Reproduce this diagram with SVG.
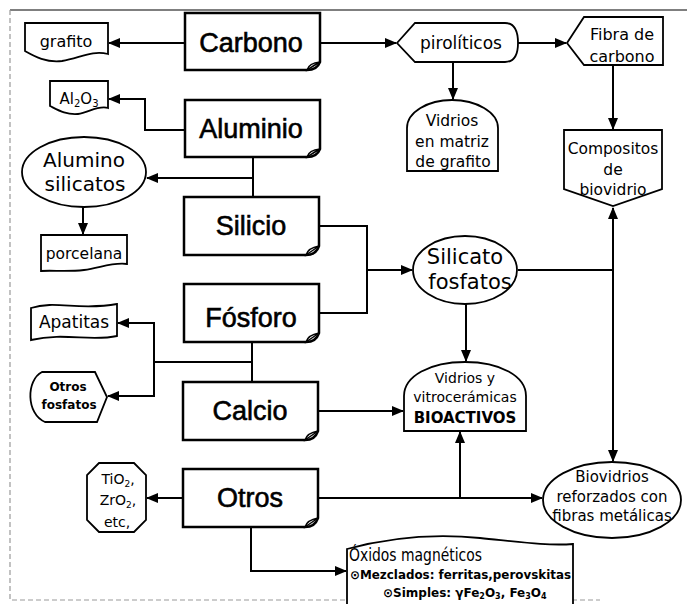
<svg xmlns="http://www.w3.org/2000/svg" width="687" height="604" viewBox="0 0 687 604">
<style>
.main{fill:#fff;stroke:#000;stroke-width:2.5;stroke-linejoin:miter}
.node{fill:#fff;stroke:#000;stroke-width:1.8}
.big{font-family:"Liberation Sans",Arial,sans-serif;font-size:27px;fill:#000;stroke:#000;stroke-width:0.6;text-anchor:middle}
.t{font-family:"DejaVu Sans",sans-serif;fill:#000;text-anchor:middle}
.c{fill:none;stroke:#000;stroke-width:2}
.fold{fill:#fff;stroke:#000;stroke-width:1.5}
</style>
<defs>
<marker id="ar" markerUnits="userSpaceOnUse" markerWidth="12" markerHeight="10" refX="11" refY="5" orient="auto">
<path d="M0,0 L12,5 L0,10 Z" fill="#000"/>
</marker>
</defs>
<rect x="0" y="0" width="687" height="604" fill="#fff"/>
<g id="frame">
<path d="M10,10 H687" stroke="#555" stroke-width="1.5" fill="none"/>
<path d="M10,10 V600 H600" stroke="#999" stroke-width="1.2" stroke-dasharray="5,3" fill="none"/>
</g>
<g id="connectors">
<path class="c" d="M185,43 H109" marker-end="url(#ar)"/>
<path class="c" d="M320,43 H396" marker-end="url(#ar)"/>
<path class="c" d="M518,43 H566" marker-end="url(#ar)"/>
<path class="c" d="M453,62 V99" marker-end="url(#ar)"/>
<path class="c" d="M613,65 V129" marker-end="url(#ar)"/>
<path class="c" d="M185,130 H145 V99 H109" marker-end="url(#ar)"/>
<path class="c" d="M253,157 V197"/>
<path class="c" d="M253,178 H147" marker-end="url(#ar)"/>
<path class="c" d="M83,207 V234" marker-end="url(#ar)"/>
<path class="c" d="M319,226 H367 V313 H318"/>
<path class="c" d="M367,270 H412" marker-end="url(#ar)"/>
<path class="c" d="M466,304 V361" marker-end="url(#ar)"/>
<path class="c" d="M518,270 H613"/>
<path class="c" d="M613,270 V208" marker-end="url(#ar)"/>
<path class="c" d="M613,270 V461" marker-end="url(#ar)"/>
<path class="c" d="M252,342 V382"/>
<path class="c" d="M252,362 H154"/>
<path class="c" d="M154,362 V323 H118" marker-end="url(#ar)"/>
<path class="c" d="M154,362 V396 H108" marker-end="url(#ar)"/>
<path class="c" d="M318,411 H403" marker-end="url(#ar)"/>
<path class="c" d="M318,498 H542" marker-end="url(#ar)"/>
<path class="c" d="M460,498 V432" marker-end="url(#ar)"/>
<path class="c" d="M183,498 H147" marker-end="url(#ar)"/>
<path class="c" d="M251,527 V571 H346" marker-end="url(#ar)"/>
</g>
<g id="carbono">
<path class="main" d="M185,13 H320 V62 Q317,70 307,70 H185 Z"/>
<path class="fold" d="M307,70 Q309,63 320,62 Q313,66 307,70 Z"/>
<text class="big" x="251" y="52">Carbono</text>
</g>
<g id="aluminio">
<path class="main" d="M185,100 H320 V149 Q317,157 307,157 H185 Z"/>
<path class="fold" d="M307,157 Q309,150 320,149 Q313,153 307,157 Z"/>
<text class="big" x="251" y="138">Aluminio</text>
</g>
<g id="silicio">
<path class="main" d="M184,197 H319 V246 Q316,255 306,255 H184 Z"/>
<path class="fold" d="M306,255 Q308,248 319,246 Q312,251 306,255 Z"/>
<text class="big" x="251" y="235">Silicio</text>
</g>
<g id="fosforo">
<path class="main" d="M184,284 H319 V333 Q316,342 306,342 H184 Z"/>
<path class="fold" d="M306,342 Q308,335 319,333 Q312,338 306,342 Z"/>
<text class="big" x="251" y="327">Fósforo</text>
</g>
<g id="calcio">
<path class="main" d="M183,382 H318 V431 Q315,440 305,440 H183 Z"/>
<path class="fold" d="M305,440 Q307,433 318,431 Q311,436 305,440 Z"/>
<text class="big" x="250" y="420">Calcio</text>
</g>
<g id="otros">
<path class="main" d="M183,469 H318 V518 Q315,527 305,527 H183 Z"/>
<path class="fold" d="M305,527 Q307,520 318,518 Q311,523 305,527 Z"/>
<text class="big" x="250" y="507">Otros</text>
</g>
<g id="grafito">
<path class="node" d="M25,23 H108 V54 C92,50 80,58 62,61 C46,63 34,56 25,51 Z"/>
<text class="t" x="66" y="47" font-size="16">grafito</text>
</g>
<g id="al2o3">
<path class="node" d="M50,81 H108 V108 C98,105 88,113 78,114 C66,115 58,110 50,106 Z"/>
<text class="t" x="79" y="104" font-size="15">Al<tspan font-size="10" dy="3">2</tspan><tspan dy="-3">O</tspan><tspan font-size="10" dy="3">3</tspan></text>
</g>
<g id="alumino-silicatos">
<ellipse class="node" cx="84" cy="172" rx="62" ry="35"/>
<text class="t" x="84" y="167" font-size="20">Alumino</text>
<text class="t" x="85" y="191" font-size="20">silicatos</text>
</g>
<g id="porcelana">
<path class="node" d="M41,235 H127 V264 C112,262 100,268 84,270 C66,272 52,270 41,271 Z"/>
<text class="t" x="84" y="259" font-size="15.5">porcelana</text>
</g>
<g id="apatitas">
<path class="node" d="M31,308 C55,300 80,311 117,304 V336 C90,342 65,332 31,340 Z"/>
<text class="t" x="74" y="328" font-size="17">Apatitas</text>
</g>
<g id="otros-fosfatos">
<path class="node" d="M42,372 H95 L107,397 L97,422 H45 C26,414 26,380 42,372 Z"/>
<text class="t" x="68" y="391" font-size="12" font-weight="bold">Otros</text>
<text class="t" x="69" y="409" font-size="12" font-weight="bold">fosfatos</text>
</g>
<g id="tio2">
<path class="node" d="M99,463 H134 L146,475 V520 L134,532 H99 L87,520 V475 Z"/>
<text class="t" x="118" y="484" font-size="14">TiO<tspan font-size="9" dy="3">2</tspan><tspan dy="-3">,</tspan></text>
<text class="t" x="118" y="505" font-size="14">ZrO<tspan font-size="9" dy="3">2</tspan><tspan dy="-3">,</tspan></text>
<text class="t" x="117" y="527" font-size="14">etc,</text>
</g>
<g id="piroliticos">
<path class="node" d="M397,43 L415,23 H505 Q518,23 518,43 Q518,62 505,62 H415 Z"/>
<text class="t" x="461" y="49" font-size="17">pirolíticos</text>
</g>
<g id="fibra-carbono">
<path class="node" d="M567,43 L584,17 H663 V65 H584 Z"/>
<text class="t" x="622" y="40" font-size="16">Fibra de</text>
<text class="t" x="622" y="62" font-size="16">carbono</text>
</g>
<g id="vidrios-matriz">
<path class="node" d="M407,171 V128 C407,112 428,100 452,100 C476,100 498,112 498,128 V171 Z"/>
<text class="t" x="452" y="126" font-size="15.5">Vidrios</text>
<text class="t" x="452" y="147" font-size="15.5">en matriz</text>
<text class="t" x="453" y="167" font-size="15.5">de grafito</text>
</g>
<g id="compositos">
<path class="node" d="M564,130 H662 V189 L613,206 L564,189 Z"/>
<text class="t" x="613" y="154" font-size="15.5">Compositos</text>
<text class="t" x="613" y="175" font-size="15.5">de</text>
<text class="t" x="613" y="195" font-size="15.5">biovidrio</text>
</g>
<g id="silicato-fosfatos">
<ellipse class="node" cx="465" cy="270" rx="52" ry="34"/>
<text class="t" x="465" y="264" font-size="21">Silicato</text>
<text class="t" x="470" y="289" font-size="21">fosfatos</text>
</g>
<g id="bioactivos">
<path class="node" d="M404,431 V396 C404,376 430,362 465,362 C500,362 526,376 526,396 V431 Z"/>
<text class="t" x="465" y="383" font-size="14">Vidrios y</text>
<text class="t" x="465" y="402" font-size="14">vitrocerámicas</text>
<text class="t" x="465" y="423" font-size="15" font-weight="bold">BIOACTIVOS</text>
</g>
<g id="biovidrios">
<ellipse class="node" cx="612" cy="500" rx="69" ry="38"/>
<text class="t" x="612" y="482" font-size="15">Biovidrios</text>
<text class="t" x="612" y="502" font-size="15">reforzados con</text>
<text class="t" x="612" y="521" font-size="15">fibras metálicas</text>
</g>
<g id="oxidos">
<path class="node" d="M347,549 C395,536 440,534 480,538 C520,542 548,546 573,544 V610 H347 Z"/>
<text font-family="DejaVu Sans,sans-serif" font-size="17" x="349" y="561" textLength="133" lengthAdjust="spacingAndGlyphs">Óxidos magnéticos</text>
<text font-family="DejaVu Sans,sans-serif" font-size="12" font-weight="bold" x="350" y="579" textLength="221" lengthAdjust="spacingAndGlyphs">⊙Mezclados: ferritas,perovskitas</text>
<text font-family="DejaVu Sans,sans-serif" font-size="12" font-weight="bold" x="383" y="597">⊙Simples: γFe<tspan font-size="8" dy="2">2</tspan><tspan dy="-2">O</tspan><tspan font-size="8" dy="2">3</tspan><tspan dy="-2">, Fe</tspan><tspan font-size="8" dy="2">3</tspan><tspan dy="-2">O</tspan><tspan font-size="8" dy="2">4</tspan></text>
</g>
</svg>
